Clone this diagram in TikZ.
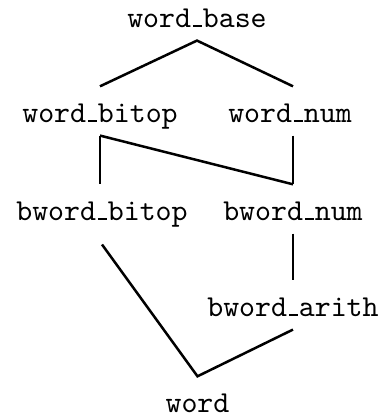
\documentclass[tikz,border=0pt]{standalone}
\usetikzlibrary{calc}
% typewriter underscore drawn as a low rule
\newcommand\tu{\leavevmode\kern.6pt\vbox{\hrule width 3.1pt height .6pt}\kern.3pt}
\tikzset{
  lbl/.style={font=\fontsize{10.3}{12}\selectfont\ttfamily, inner sep=0pt,
              text height=11.9pt, text depth=4.4pt, anchor=base},
  edge/.style={line width=.85pt}
}
\begin{document}
\begin{tikzpicture}[x=0.339pt, y=-0.339pt]
  \useasboundingbox (0,0) rectangle (382,417);
  \node[lbl] (base)   at (197,27)    {word\tu base};
  \node[lbl] (bitop)  at (100,122)   {word\tu bitop};
  \node[lbl] (num)    at (290,122)   {word\tu num};
  \node[lbl] (bbitop) at (102,220)   {bword\tu bitop};
  \node[lbl] (bnum)   at (293,220)   {bword\tu num};
  \node[lbl] (barith) at (293,316)   {bword\tu arith};
  \node[lbl] (word)   at (197.5,412) {word};

  \draw[edge] (bitop.north) -- (base.south) -- (num.north -| bnum.north);
  \draw[edge] (bitop.south -| bitop.north) -- (bitop.south |- bbitop.north);
  \draw[edge] (bitop.south) -- (bnum.north);
  \draw[edge] (num.south -| bnum.north) -- (bnum.north);
  \draw[edge] ([yshift=-3.7pt]bbitop.south) -- (word.north) -- (barith.south);
  \draw[edge] (bnum.south) -- (barith.north);
\end{tikzpicture}
\end{document}
